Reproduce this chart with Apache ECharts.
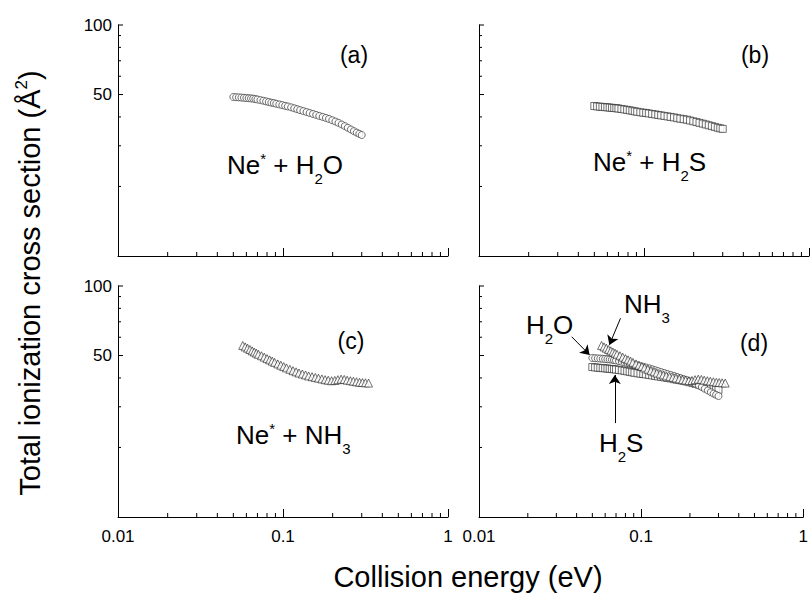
<!DOCTYPE html>
<html>
<head>
<meta charset="utf-8">
<script src="https://cdn.jsdelivr.net/npm/echarts@6/dist/echarts.min.js"></script>
<style>
  html, body { margin: 0; padding: 0; background: #fff; }
  #main { width: 811px; height: 597px; }
</style>
</head>
<body>
<div id="main"></div>
<script>
// collision energy (eV) and total ionization cross section (A^2)
const energyH2O = [0.050, 0.052, 0.054, 0.056, 0.058, 0.060, 0.062, 0.064, 0.066, 0.068, 0.070, 0.073, 0.076, 0.079, 0.082, 0.085, 0.088, 0.091, 0.095, 0.099, 0.103, 0.107, 0.112, 0.117, 0.122, 0.127, 0.133, 0.139, 0.145, 0.152, 0.159, 0.166, 0.174, 0.182, 0.190, 0.199, 0.208, 0.217, 0.227, 0.237, 0.247, 0.258, 0.269, 0.280, 0.290, 0.300]
const sigmaH2O = [48.8, 48.7, 48.6, 48.5, 48.4, 48.3, 48.2, 48.1, 48.0, 47.8, 47.6, 47.3, 47.0, 46.7, 46.4, 46.1, 45.9, 45.6, 45.3, 45.0, 44.7, 44.4, 44.0, 43.6, 43.2, 42.8, 42.4, 42.0, 41.6, 41.2, 40.8, 40.4, 40.0, 39.6, 39.2, 38.7, 38.2, 37.7, 37.1, 36.5, 35.9, 35.3, 34.7, 34.2, 33.8, 33.4]

const energyH2S = [0.050, 0.052, 0.054, 0.056, 0.058, 0.060, 0.062, 0.064, 0.066, 0.068, 0.070, 0.073, 0.076, 0.079, 0.082, 0.085, 0.088, 0.091, 0.095, 0.099, 0.103, 0.107, 0.112, 0.117, 0.122, 0.127, 0.133, 0.139, 0.145, 0.152, 0.159, 0.166, 0.174, 0.182, 0.190, 0.199, 0.208, 0.217, 0.227, 0.237, 0.247, 0.258, 0.269, 0.280, 0.290, 0.300]
const sigmaH2S = [44.6, 44.4, 44.3, 44.2, 44.1, 44.0, 43.9, 43.8, 43.7, 43.6, 43.5, 43.3, 43.1, 42.9, 42.7, 42.5, 42.3, 42.1, 41.9, 41.7, 41.6, 41.4, 41.2, 41.0, 40.8, 40.6, 40.4, 40.2, 40.0, 39.8, 39.5, 39.3, 39.1, 38.9, 38.6, 38.3, 38.0, 37.7, 37.4, 37.1, 36.8, 36.5, 36.2, 35.9, 35.7, 35.5]

const energyNH3 = [0.057, 0.059, 0.061, 0.063, 0.065, 0.067, 0.069, 0.071, 0.074, 0.077, 0.080, 0.083, 0.086, 0.089, 0.093, 0.097, 0.101, 0.105, 0.110, 0.115, 0.120, 0.125, 0.131, 0.137, 0.143, 0.150, 0.157, 0.164, 0.172, 0.180, 0.188, 0.197, 0.206, 0.215, 0.225, 0.235, 0.245, 0.256, 0.267, 0.279, 0.291, 0.303, 0.316, 0.330]
const sigmaNH3 = [55.3, 54.5, 53.8, 53.1, 52.4, 51.8, 51.2, 50.6, 49.9, 49.2, 48.5, 47.9, 47.3, 46.7, 46.0, 45.4, 44.8, 44.2, 43.6, 43.0, 42.5, 42.0, 41.6, 41.2, 40.8, 40.5, 40.2, 39.9, 39.6, 39.3, 39.1, 38.9, 39.0, 39.3, 39.5, 39.4, 39.1, 38.9, 38.7, 38.5, 38.3, 38.2, 38.1, 38.0]

// axis ticks
const xMinorTicks = [0.02, 0.03, 0.04, 0.05, 0.06, 0.07, 0.08, 0.09, 0.2, 0.3, 0.4, 0.5, 0.6, 0.7, 0.8, 0.9]
const yMinorTicks = [20, 30, 40, 60, 70, 80, 90]
const yMajorTicks = [50, 100]
const yTickLabels = ['50', '100']

const FONT = "'Liberation Sans', Arial, Helvetica, sans-serif"

const grids = [
  { left: 118, top: 25, width: 330, height: 231 },
  { left: 479, top: 25, width: 330, height: 231 },
  { left: 118, top: 286, width: 330, height: 231 },
  { left: 479, top: 286, width: 330, height: 231 }
]

function pairs(xs, ys) {
  return xs.map((x, i) => [x, ys[i]])
}

const markerStyle = { color: '#fff', borderColor: '#222', borderWidth: 0.8 }

function scatter(idx, xs, ys, symbol, size) {
  return {
    type: 'scatter',
    xAxisIndex: idx,
    yAxisIndex: idx,
    data: pairs(xs, ys),
    symbol: symbol,
    symbolSize: size,
    itemStyle: markerStyle,
    silent: true
  }
}

function xMinorSeries(idx) {
  return {
    type: 'custom',
    xAxisIndex: idx,
    yAxisIndex: idx,
    clip: false,
    silent: true,
    data: xMinorTicks.map((v) => [v, 10]),
    renderItem(params, api) {
      const p = api.coord([api.value(0), api.value(1)])
      return {
        type: 'line',
        shape: { x1: p[0], y1: p[1], x2: p[0], y2: p[1] - 4 },
        style: { stroke: '#000', lineWidth: 1 }
      }
    }
  }
}

function yTickSeries(idx, withLabels) {
  const data = yMinorTicks.map((v) => [0.01, v, 3, ''])
  yMajorTicks.forEach((v, i) => data.push([0.01, v, 5, withLabels ? yTickLabels[i] : '']))
  return {
    type: 'custom',
    xAxisIndex: idx,
    yAxisIndex: idx,
    clip: false,
    silent: true,
    data: data,
    renderItem(params, api) {
      const p = api.coord([api.value(0), api.value(1)])
      const len = api.value(2)
      const label = data[params.dataIndex][3]
      const children = [{
        type: 'line',
        shape: { x1: p[0], y1: p[1], x2: p[0] + len, y2: p[1] },
        style: { stroke: '#000', lineWidth: 1 }
      }]
      if (label) {
        children.push({
          type: 'text',
          x: p[0] - 6,
          y: p[1],
          style: {
            text: label,
            align: 'right',
            verticalAlign: 'middle',
            fontSize: 17,
            fontFamily: FONT,
            fill: '#000'
          }
        })
      }
      return { type: 'group', children: children }
    }
  }
}

const rich = {
  m: { fontSize: 26, lineHeight: 40, fontFamily: FONT, color: '#000' },
  sub: { fontSize: 15, lineHeight: 15, padding: [26, 0, 0, 0], verticalAlign: 'top', fontFamily: FONT, color: '#000' },
  sup: { fontSize: 15, lineHeight: 15, padding: [6, 0, 0, 0], verticalAlign: 'top', fontFamily: FONT, color: '#000' },
  t: { fontSize: 29, lineHeight: 40, fontFamily: FONT, color: '#000' },
  tsup: { fontSize: 17, lineHeight: 17, padding: [3, 0, 0, 0], verticalAlign: 'top', fontFamily: FONT, color: '#000' }
}

function richText(x, y, text, align, vAlign, rotation) {
  return {
    type: 'text',
    x: x,
    y: y,
    rotation: rotation || 0,
    silent: true,
    style: {
      text: text,
      rich: rich,
      align: align || 'left',
      verticalAlign: vAlign || 'top'
    }
  }
}

function plainText(x, y, text, size) {
  return {
    type: 'text',
    x: x,
    y: y,
    silent: true,
    style: {
      text: text,
      fontSize: size,
      fontFamily: FONT,
      fill: '#000',
      align: 'center',
      verticalAlign: 'middle'
    }
  }
}

const arrowLines = {
  silent: true,
  symbol: ['none', 'arrow'],
  symbolSize: 9,
  label: { show: false },
  lineStyle: { color: '#000', width: 1, type: 'solid' },
  emphasis: { disabled: true },
  data: [
    [{ coord: [0.0373, 60.3] }, { coord: [0.0481, 50.3] }],
    [{ coord: [0.0746, 72.5] }, { coord: [0.0637, 55.6] }],
    [{ coord: [0.0688, 25.5] }, { coord: [0.0688, 41.2] }]
  ]
}

const option = {
  animation: false,
  backgroundColor: '#fff',
  grid: grids,
  xAxis: grids.map((g, i) => ({
    type: 'log',
    logBase: 10,
    gridIndex: i,
    min: 0.01,
    max: 1,
    axisLine: { show: true, onZero: false, lineStyle: { color: '#000', width: 1 } },
    axisTick: { show: true, inside: true, length: 8, lineStyle: { color: '#000', width: 1 } },
    axisLabel: {
      show: i >= 2,
      margin: 11,
      fontSize: 17,
      fontFamily: FONT,
      color: '#000',
      formatter: (v) => String(+v.toPrecision(3))
    },
    splitLine: { show: false }
  })),
  yAxis: grids.map((g, i) => ({
    type: 'log',
    logBase: 10,
    gridIndex: i,
    min: 10,
    max: 100,
    axisLine: { show: true, onZero: false, lineStyle: { color: '#000', width: 1 } },
    axisTick: { show: false },
    axisLabel: { show: false },
    splitLine: { show: false }
  })),
  series: [
    xMinorSeries(0), xMinorSeries(1), xMinorSeries(2), xMinorSeries(3),
    yTickSeries(0, true), yTickSeries(1, false), yTickSeries(2, true), yTickSeries(3, false),
    scatter(0, energyH2O, sigmaH2O, 'circle', 7),
    scatter(1, energyH2S, sigmaH2S, 'rect', 7),
    scatter(2, energyNH3, sigmaNH3, 'triangle', 8),
    scatter(3, energyH2S, sigmaH2S, 'rect', 7),
    Object.assign(scatter(3, energyH2O, sigmaH2O, 'circle', 7), { markLine: arrowLines }),
    scatter(3, energyNH3, sigmaNH3, 'triangle', 8)
  ],
  graphic: [
    plainText(354, 55, '(a)', 23),
    plainText(755, 55, '(b)', 23),
    plainText(351, 341, '(c)', 23),
    plainText(754, 343, '(d)', 23),
    richText(227, 145, '{m|Ne}{sup|*}{m| + H}{sub|2}{m|O}'),
    richText(593, 142, '{m|Ne}{sup|*}{m| + H}{sub|2}{m|S}'),
    richText(236, 415, '{m|Ne}{sup|*}{m| + NH}{sub|3}'),
    richText(526, 305, '{m|H}{sub|2}{m|O}'),
    richText(624, 284, '{m|NH}{sub|3}'),
    richText(599, 423, '{m|H}{sub|2}{m|S}'),
    richText(468, 577, '{t|Collision energy (eV)}', 'center', 'middle'),
    richText(30, 283, '{t|Total ionization cross section (Å}{tsup|2}{t|)}', 'center', 'middle', Math.PI / 2)
  ]
}

const chart = echarts.init(document.getElementById('main'), null, { renderer: 'svg' })
chart.setOption(option)
</script>
</body>
</html>
